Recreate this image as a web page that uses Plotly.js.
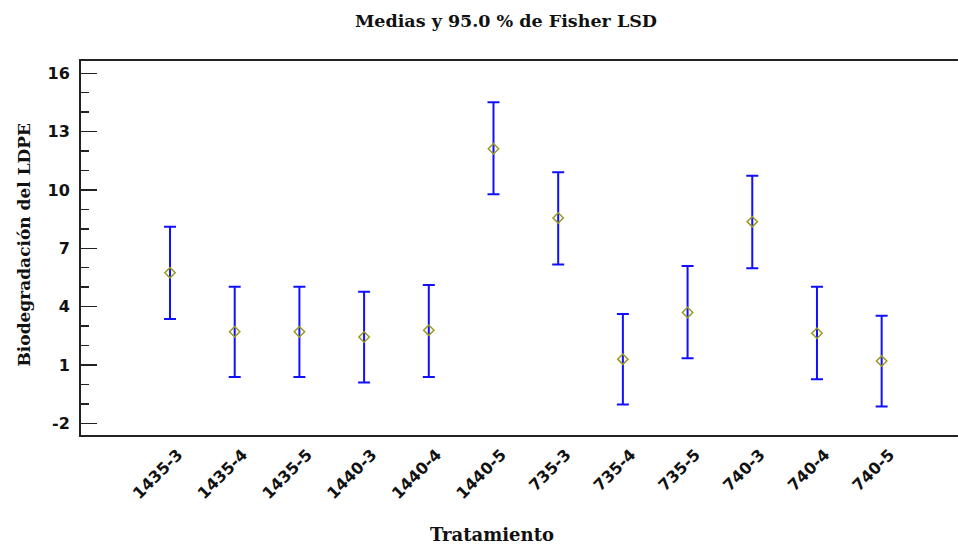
<!DOCTYPE html>
<html>
<head>
<meta charset="utf-8">
<script src="https://cdn.plot.ly/plotly-3.0.1.min.js"></script>
<style>html,body{margin:0;padding:0;background:#fff;overflow:hidden;}</style>
</head>
<body>
<div id="chart" style="width:958px;height:547px;"></div>
<script>
const categories = ['1435-3','1435-4','1435-5','1440-3','1440-4','1440-5','735-3','735-4','735-5','740-3','740-4','740-5'];
const means = [5.74, 2.71, 2.71, 2.44, 2.79, 12.12, 8.56, 1.30, 3.70, 8.37, 2.63, 1.20];
const upper = [8.11, 5.02, 5.02, 4.77, 5.11, 14.51, 10.91, 3.62, 6.09, 10.73, 5.02, 3.53];
const lower = [3.36, 0.38, 0.38, 0.10, 0.38, 9.78, 6.17, -1.03, 1.34, 5.98, 0.27, -1.13];
const yTickVals = [-2, 1, 4, 7, 10, 13, 16];

const errPlus = upper.map((u, i) => u - means[i]);
const errMinus = lower.map((l, i) => means[i] - l);

const serif = 'DejaVu Serif';
const sans = 'DejaVu Sans';
const yRange = [-2.6, 16.63];

const trace = {
  type: 'scatter',
  mode: 'markers',
  x: categories,
  y: means,
  marker: {symbol: 'diamond-open', size: 8, color: '#9c9a1e', line: {width: 1.5, color: '#9c9a1e'}},
  error_y: {type: 'data', symmetric: false, array: errPlus, arrayminus: errMinus, color: '#1010ff', thickness: 2, width: 6},
  showlegend: false,
  hoverinfo: 'x+y'
};

const layout = {
  width: 958, height: 547,
  margin: {l: 81, r: 0, t: 61, b: 112},
  paper_bgcolor: '#fff', plot_bgcolor: '#fff',
  title: {text: 'Medias y 95.0 % de Fisher LSD', font: {family: serif, size: 17.5, color: '#111', weight: 'bold'},
          x: 506/958, xref: 'container', xanchor: 'center', y: 1 - 21/547, yref: 'container', yanchor: 'middle'},
  xaxis: {
    type: 'category', categoryorder: 'array', categoryarray: categories,
    range: [-1.376, 12.18],
    showline: true, linecolor: '#222', linewidth: 2, mirror: true,
    ticks: '', showgrid: false, zeroline: false,
    tickangle: -45,
    ticklabelshift: 8,
    ticklabelstandoff: 2,
    tickfont: {family: sans, size: 16, color: '#111', weight: 'bold'}
  },
  yaxis: {
    range: yRange,
    tickmode: 'array', tickvals: yTickVals, ticktext: yTickVals.map(String),
    ticks: 'inside', ticklen: 16, tickwidth: 1.5, tickcolor: '#222',
    minor: {ticks: 'inside', ticklen: 8, tickwidth: 1.5, tickcolor: '#222', dtick: 1, tick0: 0, showgrid: false},
    showline: true, linecolor: '#222', linewidth: 2, mirror: false,
    showgrid: false, zeroline: false,
    ticklabelstandoff: 6,
    tickfont: {family: sans, size: 16, color: '#111', weight: 'bold'}
  },
  yaxis2: {
    overlaying: 'y', side: 'right', range: yRange,
    tickmode: 'array', tickvals: yTickVals,
    ticks: 'inside', ticklen: 4, tickwidth: 1.5, tickcolor: '#222',
    minor: {ticks: 'inside', ticklen: 2, tickwidth: 1.5, tickcolor: '#222', dtick: 1, tick0: 0, showgrid: false},
    showticklabels: false, showline: false, showgrid: false, zeroline: false
  },
  annotations: [
    {text: 'Tratamiento', xref: 'paper', yref: 'paper', x: (492-81)/877, y: -(534-435)/374,
     xanchor: 'center', yanchor: 'middle', showarrow: false,
     font: {family: serif, size: 18, color: '#111', weight: 'bold'}},
    {text: 'Biodegradación del LDPE', xref: 'paper', yref: 'paper', x: (23-81)/877, y: (435-244.5)/374,
     xanchor: 'center', yanchor: 'middle', textangle: -90, showarrow: false,
     font: {family: serif, size: 17, color: '#111', weight: 'bold'}}
  ]
};

Plotly.newPlot('chart', [trace], layout, {displayModeBar: false, staticPlot: true});
</script>
</body>
</html>
